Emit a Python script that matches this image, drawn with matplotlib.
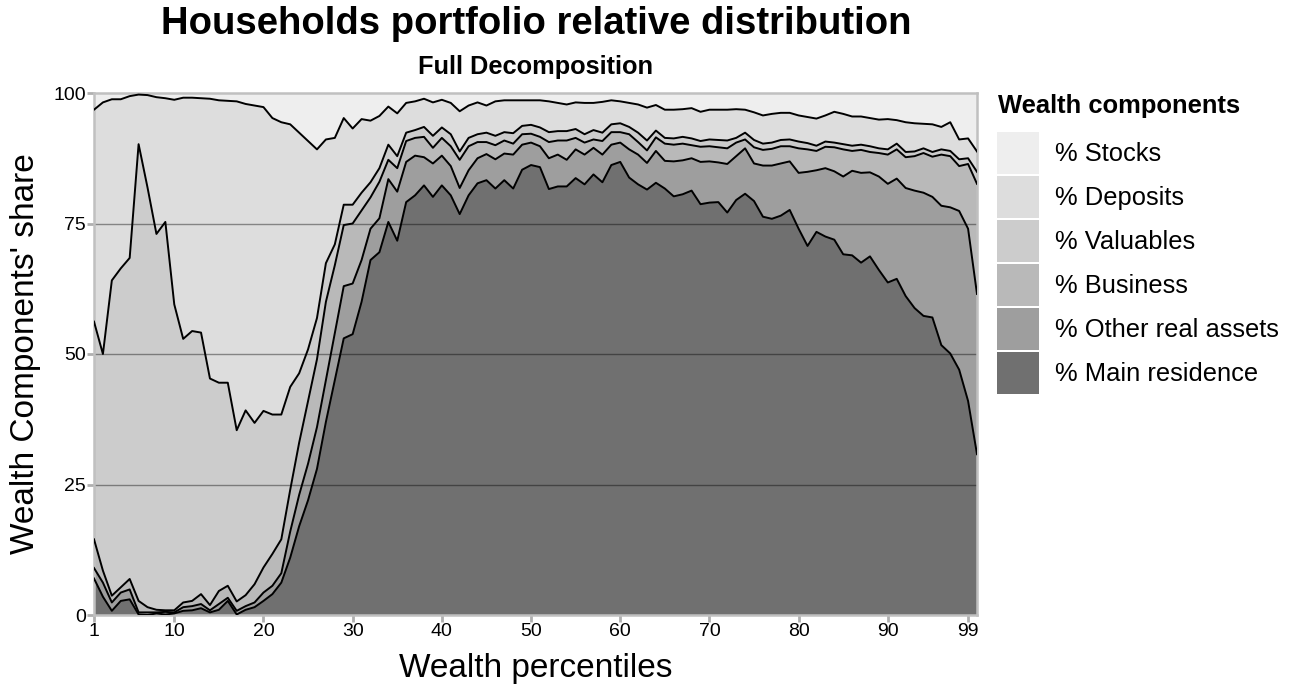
import numpy as np
import matplotlib
matplotlib.use("Agg")
import matplotlib.pyplot as plt
from matplotlib.patches import Rectangle

plt.rcParams['font.family'] = ['Liberation Sans', 'DejaVu Sans']

percentiles = list(range(1, 101))
xtick_labels = [1, 10, 20, 30, 40, 50, 60, 70, 80, 90, 99]
ytick_labels = [0, 25, 50, 75, 100]

main_residence = [7.0, 3.5, 0.8, 2.7, 3.0, 0.1, 0.0, 0.3, 0.1, 0.3,
                  0.8, 0.9, 1.3, 0.5, 1.0, 2.7, 0.1, 1.0, 1.5, 2.7,
                  4.0, 6.2, 11.0, 17.0, 22.0, 28.0, 37.0, 45.0, 53.0, 53.8,
                  60.0, 68.0, 69.5, 75.3, 71.7, 79.1, 80.4, 82.3, 80.1, 82.3,
                  80.4, 76.8, 80.4, 82.7, 83.3, 81.7, 83.3, 81.7, 85.3, 86.2,
                  85.8, 81.6, 82.1, 82.1, 83.7, 82.5, 84.4, 82.9, 86.2, 86.8,
                  83.8, 82.5, 81.5, 82.8, 81.7, 80.2, 80.6, 81.3, 78.7, 79.0,
                  79.1, 77.1, 79.5, 80.7, 79.3, 76.3, 75.9, 76.5, 77.6, 74.0,
                  70.7, 73.4, 72.5, 71.9, 69.1, 68.9, 67.5, 68.7, 66.1, 63.7,
                  64.4, 61.1, 58.8, 57.3, 57.0, 51.7, 50.1, 47.0, 41.0, 30.8]

other_real_assets = [2.0, 2.7, 1.6, 1.6, 1.9, 0.4, 0.5, 0.2, 0.5, 0.2,
                     0.7, 0.8, 0.8, 0.4, 1.1, 0.6, 0.7, 0.7, 0.9, 1.6,
                     1.6, 1.8, 5.0, 6.0, 7.0, 8.0, 8.0, 9.0, 10.0, 9.7,
                     8.0, 6.0, 6.5, 8.2, 9.4, 7.7, 7.6, 5.4, 6.4, 5.7,
                     5.6, 5.0, 4.8, 4.8, 5.0, 5.6, 5.1, 6.5, 4.8, 4.3,
                     4.0, 5.9, 6.1, 5.1, 5.5, 5.7, 5.1, 5.3, 3.9, 3.7,
                     5.4, 5.7, 5.1, 6.1, 5.3, 6.7, 6.5, 6.2, 8.1, 7.9,
                     7.6, 9.3, 8.4, 8.7, 7.2, 9.8, 10.2, 10.0, 9.3, 10.7,
                     14.2, 11.8, 13.1, 13.1, 14.9, 16.2, 17.2, 16.1, 17.9, 18.9,
                     19.2, 20.7, 22.5, 23.6, 23.1, 26.7, 28.0, 30.4, 33.0, 30.7]

business = [5.5, 2.3, 1.3, 1.0, 2.0, 2.2, 1.0, 0.5, 0.3, 0.4,
            0.9, 1.0, 1.9, 1.0, 2.5, 2.3, 1.8, 2.1, 3.5, 4.8,
            6.1, 6.5, 8.0, 10.0, 12.0, 13.0, 15.0, 13.0, 11.7, 11.5,
            9.5, 6.0, 7.0, 3.7, 4.5, 4.0, 3.4, 3.9, 3.0, 3.4,
            3.8, 5.4, 4.6, 3.1, 2.3, 2.7, 2.5, 2.1, 2.0, 1.7,
            1.8, 3.1, 2.7, 3.7, 2.2, 2.3, 1.6, 2.6, 2.4, 2.0,
            2.9, 2.4, 2.4, 2.6, 3.3, 3.2, 3.2, 2.5, 2.9, 2.9,
            2.9, 3.0, 2.6, 1.7, 3.1, 3.0, 3.2, 3.3, 2.9, 4.7,
            4.3, 3.7, 4.1, 4.6, 5.2, 3.8, 4.4, 3.9, 4.5, 5.6,
            5.6, 5.9, 6.6, 7.6, 7.7, 9.8, 9.8, 8.6, 12.4, 21.1]

valuables = [41.7, 41.5, 60.4, 61.1, 61.5, 87.5, 80.4, 72.0, 74.4, 58.6,
             50.5, 51.7, 50.1, 43.4, 39.9, 38.9, 32.8, 35.4, 30.9, 30.0,
             26.7, 23.9, 19.7, 13.3, 9.9, 7.9, 7.4, 4.0, 3.9, 3.6,
             3.4, 2.9, 2.6, 2.9, 2.3, 1.6, 1.5, 1.9, 2.3, 2.0,
             2.3, 1.6, 1.6, 1.5, 1.8, 1.8, 1.6, 2.0, 1.6, 1.7,
             1.8, 1.9, 1.8, 1.8, 1.7, 1.6, 1.8, 1.6, 1.5, 1.7,
             1.4, 1.8, 1.9, 1.3, 1.1, 1.2, 1.3, 1.3, 1.1, 1.3,
             1.4, 1.5, 0.9, 1.3, 1.4, 1.2, 1.2, 1.2, 1.3, 1.3,
             1.2, 1.0, 1.0, 0.9, 1.0, 1.0, 1.0, 1.1, 0.9, 1.0,
             1.1, 1.0, 0.9, 0.9, 0.9, 1.0, 1.0, 1.3, 1.1, 2.3]

deposits = [40.6, 48.2, 34.7, 32.4, 31.0, 9.5, 17.7, 26.2, 23.7, 39.2,
            46.2, 44.7, 44.9, 53.6, 54.1, 54.0, 63.0, 58.7, 60.8, 58.2,
            56.8, 56.0, 50.3, 46.1, 39.9, 32.3, 23.7, 20.4, 16.6, 14.6,
            14.1, 11.8, 10.0, 7.3, 8.2, 5.7, 5.5, 5.4, 6.4, 5.3,
            6.0, 7.7, 6.2, 6.1, 5.2, 6.6, 6.1, 6.3, 4.9, 4.7,
            5.2, 5.9, 5.4, 5.1, 5.1, 6.0, 5.2, 5.9, 4.6, 4.2,
            4.6, 5.4, 6.3, 4.9, 5.4, 5.5, 5.3, 5.8, 5.6, 5.7,
            5.8, 5.9, 5.5, 4.4, 5.3, 5.4, 5.5, 5.2, 5.1, 5.0,
            5.0, 5.2, 5.0, 5.9, 5.8, 5.6, 5.4, 5.4, 5.5, 5.8,
            4.5, 5.7, 5.4, 4.7, 5.3, 4.3, 5.5, 3.8, 3.8, 3.9]

stocks = [3.2, 1.8, 1.2, 1.2, 0.6, 0.3, 0.4, 0.8, 1.0, 1.3,
          0.9, 0.9, 1.0, 1.1, 1.4, 1.5, 1.6, 2.1, 2.4, 2.7,
          4.8, 5.6, 6.0, 7.6, 9.2, 10.8, 8.9, 8.6, 4.8, 6.8,
          5.0, 5.3, 4.4, 2.6, 3.9, 1.9, 1.6, 1.1, 1.8, 1.3,
          1.9, 3.5, 2.4, 1.8, 2.4, 1.6, 1.4, 1.4, 1.4, 1.4,
          1.4, 1.6, 1.9, 2.2, 1.8, 1.9, 1.9, 1.7, 1.4, 1.6,
          1.9, 2.2, 2.8, 2.3, 3.2, 3.2, 3.1, 2.9, 3.6, 3.2,
          3.2, 3.2, 3.1, 3.2, 3.7, 4.3, 4.0, 3.8, 3.8, 4.3,
          4.6, 4.9, 4.3, 3.6, 4.0, 4.5, 4.5, 4.8, 5.1, 5.0,
          5.2, 5.6, 5.8, 5.9, 6.0, 6.5, 5.6, 8.9, 8.7, 11.2]

series_names = ['% Main residence', '% Other real assets', '% Business',
                '% Valuables', '% Deposits', '% Stocks']
series = [main_residence, other_real_assets, business, valuables, deposits, stocks]
colors = ['#707070', '#9e9e9e', '#b9b9b9', '#cccccc', '#dddddd', '#eeeeee']

W, H = 1294, 685
fig = plt.figure(figsize=(W / 100, H / 100), dpi=100)
ax = fig.add_axes([94 / W, 1 - 615 / H, (977 - 94) / W, (615 - 93) / H])

x = np.array(percentiles)
ax.stackplot(x, *series, colors=colors, linewidth=0, zorder=1)
cum = np.cumsum(np.array(series), axis=0)
for k in range(len(series) - 1):
    ax.plot(x, cum[k], color='black', lw=1.4, zorder=3)

for yv in [25, 50, 75]:
    ax.axhline(yv, color='black', alpha=0.4, lw=1.0, zorder=2)

ax.set_xlim(1, 100)
ax.set_ylim(0, 100)
ax.set_xticks(xtick_labels)
ax.set_yticks(ytick_labels)
ax.tick_params(axis='both', colors='#b0b0b0', labelcolor='black', labelsize=14,
               length=5, width=2, direction='out', pad=1)
for s in ax.spines.values():
    s.set_color('#c0c0c0')
    s.set_linewidth(1.8)
ax.set_xlabel('Wealth percentiles', fontsize=24)
ax.set_ylabel("Wealth Components' share", fontsize=24)
ax.xaxis.set_label_coords(0.5, -0.072)
ax.yaxis.set_label_coords(-0.060, 0.5)

fig.text(536 / W, 1 - 24 / H, 'Households portfolio relative distribution', ha='center', va='center',
         fontsize=27.5, fontweight='bold')
fig.text(536 / W, 1 - 67 / H, 'Full Decomposition', ha='center', va='center',
         fontsize=18.3, fontweight='bold')

# legend (manual, matching the reference layout)
fig.text(998 / W, 1 - 106 / H, 'Wealth components', ha='left', va='center',
         fontsize=18.4, fontweight='bold')
legend_order = list(range(len(series) - 1, -1, -1))
for row, i in enumerate(legend_order):
    top = 132 + 44 * row
    fig.add_artist(Rectangle((997 / W, 1 - (top + 42) / H), 42 / W, 42 / H,
                             transform=fig.transFigure, facecolor=colors[i],
                             edgecolor='none'))
    fig.text(1055 / W, 1 - (top + 22) / H, series_names[i], ha='left', va='center',
             fontsize=18.4)

fig.savefig('out.png', dpi=100)
